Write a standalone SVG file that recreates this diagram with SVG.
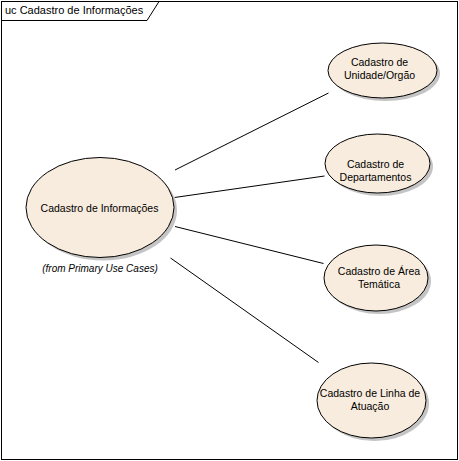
<svg xmlns="http://www.w3.org/2000/svg" width="459" height="461" viewBox="0 0 459 461">
<style>
.frame{fill:#fff;stroke:#000;stroke-width:1}
.tab{fill:none;stroke:#000;stroke-width:1}
.uc{fill:#f8ecde;stroke:#000;stroke-width:1}
.sh{fill:#c4c4c4;stroke:none}
.t{font-family:"Liberation Sans",Arial,sans-serif;font-size:10.5px;fill:#000;text-anchor:middle}
.title{font-family:"Liberation Sans",Arial,sans-serif;font-size:11px;fill:#000}
.from{font-family:"Liberation Sans",Arial,sans-serif;font-size:10px;font-style:italic;fill:#000;text-anchor:middle}
.c{stroke:#000;stroke-width:1;fill:none}
</style>
<rect width="459" height="461" fill="#fff"/>
<g id="frame">
<rect class="frame" x="1.5" y="1.5" width="456" height="458"/>
<polyline class="tab" points="1.5,20.5 147,20.5 159,1.5"/>
<text class="title" x="5" y="14">uc Cadastro de Informações</text>
</g>
<g id="connectors">
<line class="c" x1="175" y1="170" x2="328.5" y2="93"/>
<line class="c" x1="174.5" y1="197.5" x2="324.5" y2="176"/>
<line class="c" x1="175" y1="226.5" x2="323.5" y2="263.5"/>
<line class="c" x1="170.5" y1="258" x2="318.5" y2="362.5"/>
</g>
<g id="main">
<ellipse class="sh" cx="103" cy="210.5" rx="74" ry="50"/>
<ellipse class="uc" cx="100" cy="207.5" rx="74" ry="50"/>
<text class="t" x="99.5" y="212">Cadastro de Informações</text>
<text class="from" x="100" y="272">(from Primary Use Cases)</text>
</g>
<g id="unidade">
<ellipse class="sh" cx="385.5" cy="73.5" rx="54.5" ry="27.5"/>
<ellipse class="uc" cx="382.5" cy="70.5" rx="54.5" ry="27.5"/>
<text class="t" x="379.5" y="66">Cadastro de</text>
<text class="t" x="379.5" y="79">Unidade/Orgão</text>
</g>
<g id="departamentos">
<ellipse class="sh" cx="380.5" cy="166.5" rx="52.5" ry="29.5"/>
<ellipse class="uc" cx="377.5" cy="163.5" rx="52.5" ry="29.5"/>
<text class="t" x="375.5" y="168">Cadastro de</text>
<text class="t" x="375.5" y="181">Departamentos</text>
</g>
<g id="area">
<ellipse class="sh" cx="379" cy="281" rx="52" ry="33"/>
<ellipse class="uc" cx="376" cy="278" rx="52" ry="33"/>
<text class="t" x="379" y="275">Cadastro de Área</text>
<text class="t" x="379" y="288">Temática</text>
</g>
<g id="linha">
<ellipse class="sh" cx="374.5" cy="403.5" rx="54.5" ry="37.5"/>
<ellipse class="uc" cx="371.5" cy="400.5" rx="54.5" ry="37.5"/>
<text class="t" x="370" y="397">Cadastro de Linha de</text>
<text class="t" x="370" y="410">Atuação</text>
</g>
</svg>
